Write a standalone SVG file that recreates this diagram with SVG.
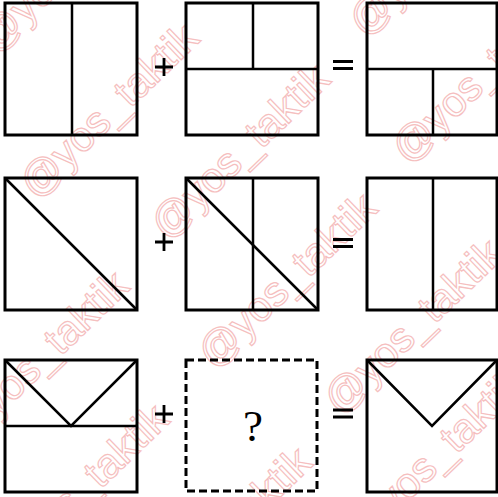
<svg xmlns="http://www.w3.org/2000/svg" width="498" height="497" viewBox="0 0 498 497">
<style>
.bg{fill:#ffffff}
.box{fill:none;stroke:#000;stroke-width:3}
.dash{fill:none;stroke:#000;stroke-width:3;stroke-dasharray:8 4}
.ln{fill:none;stroke:#000;stroke-width:2.5}
.op{fill:none;stroke:#000;stroke-width:2.8}
.q{font-family:"Liberation Serif","Times New Roman",serif;font-size:45px;fill:#000}
.wm{font-family:"Liberation Sans",Arial,sans-serif;font-size:42px;fill:none;stroke:#f2a4a4;stroke-width:1.2;opacity:0.7}
</style>
<rect class="bg" x="0" y="0" width="498" height="497"/>
<g id="watermarks">
<text class="wm" transform="translate(36,200) rotate(-44)">@yos_taktik</text>
<text class="wm" transform="translate(167,241) rotate(-44)">@yos_taktik</text>
<text class="wm" transform="translate(365,38) rotate(-44)">@yos_taktik</text>
<text class="wm" transform="translate(408,165) rotate(-44)">@yos_taktik</text>
<text class="wm" transform="translate(214,370) rotate(-44)">@yos_taktik</text>
<text class="wm" transform="translate(340,416) rotate(-44)">@yos_taktik</text>
<text class="wm" transform="translate(-5,55) rotate(-44)">@yos_taktik</text>
<text class="wm" transform="translate(-34,448) rotate(-44)">@yos_taktik</text>
<text class="wm" transform="translate(6,581) rotate(-44)">@yos_taktik</text>
<text class="wm" transform="translate(149,624) rotate(-44)">@yos_taktik</text>
<text class="wm" transform="translate(362,546) rotate(-44)">@yos_taktik</text>
</g>
<g id="r1a"><rect class="box" x="5" y="3" width="132" height="132"/><line class="ln" x1="72" y1="3" x2="72" y2="135"/></g>
<g id="r1b"><rect class="box" x="186" y="3" width="132" height="132"/><line class="ln" x1="186" y1="69" x2="318" y2="69"/><line class="ln" x1="253" y1="3" x2="253" y2="69"/></g>
<g id="r1c"><rect class="box" x="367" y="3" width="130" height="132"/><line class="ln" x1="367" y1="69" x2="497" y2="69"/><line class="ln" x1="433" y1="69" x2="433" y2="135"/></g>
<g id="r2a"><rect class="box" x="5" y="178" width="132" height="132"/><line class="ln" x1="5" y1="178" x2="137" y2="310"/></g>
<g id="r2b"><rect class="box" x="186" y="178" width="132" height="132"/><line class="ln" x1="253" y1="178" x2="253" y2="310"/><line class="ln" x1="186" y1="178" x2="318" y2="310"/></g>
<g id="r2c"><rect class="box" x="367" y="178" width="130" height="132"/><line class="ln" x1="433" y1="178" x2="433" y2="310"/></g>
<g id="r3a"><rect class="box" x="5" y="360" width="132" height="132"/><line class="ln" x1="5" y1="426" x2="137" y2="426"/><polyline class="ln" points="5,360 71,426 137,360"/></g>
<g id="r3b"><rect class="dash" x="186" y="360" width="131" height="131"/><text class="q" x="253" y="441" text-anchor="middle">?</text></g>
<g id="r3c"><rect class="box" x="367" y="360" width="130" height="132"/><polyline class="ln" points="367,360 432,426 497,360"/></g>
<g id="operators">
<path class="op" d="M155,67H173M164,58V76"/>
<path class="op" d="M333,61.5H353M333,68.5H353"/>
<path class="op" d="M155,242H173M164,233V251"/>
<path class="op" d="M333,239.5H353M333,246.5H353"/>
<path class="op" d="M155,414H173M164,405V423"/>
<path class="op" d="M333,410H353M333,417H353"/>
</g>
</svg>
